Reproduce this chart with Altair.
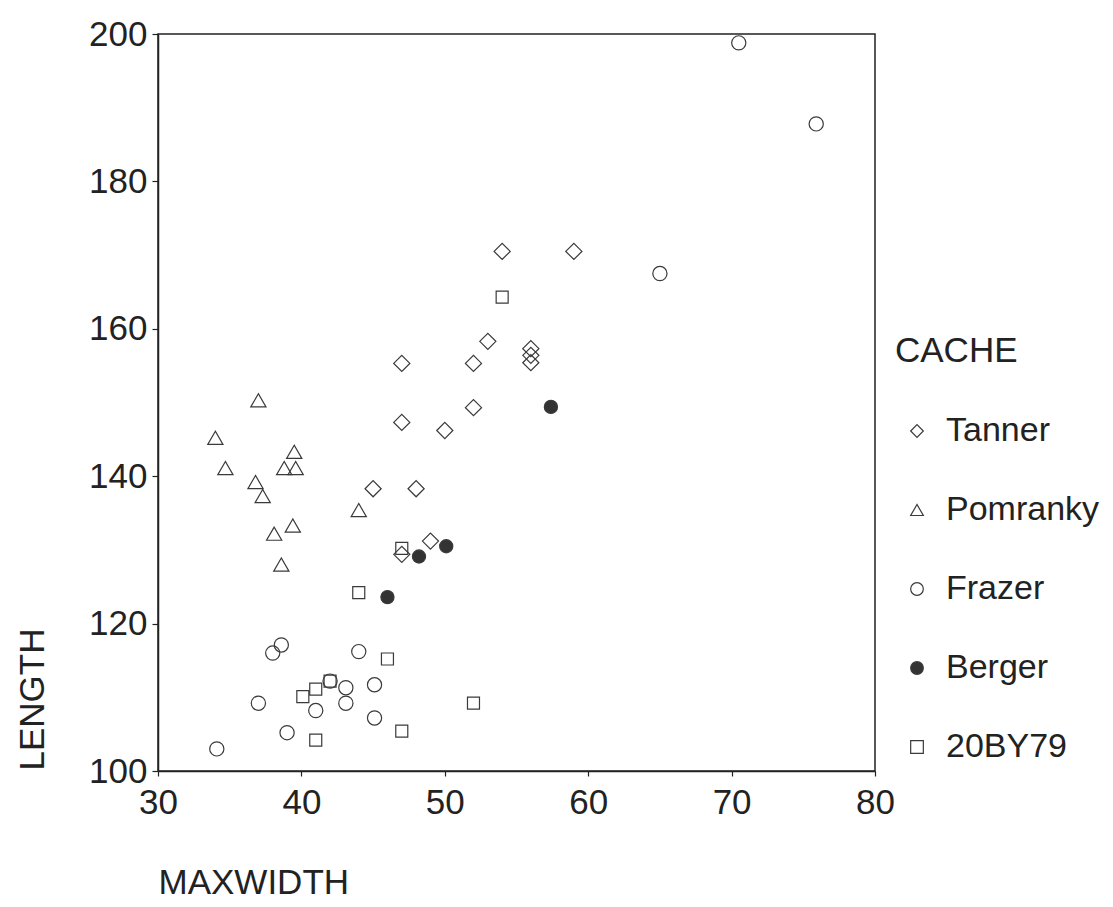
import altair as alt
import pandas as pd

caches = ["Tanner", "Pomranky", "Frazer", "Berger", "20BY79"]

tanner_x = [54, 59, 47, 52, 53, 56, 56, 56, 47, 52, 50, 45, 48, 49, 47]
tanner_y = [170.5, 170.5, 155.3, 155.3, 158.3, 157.3, 156.4, 155.4, 147.3, 149.3, 146.2, 138.3, 138.3, 131.2, 129.4]

pomranky_x = [37, 34, 34.7, 39.5, 38.8, 39.6, 36.8, 37.3, 44, 39.4, 38.1, 38.6]
pomranky_y = [150.3, 145.2, 141.1, 143.3, 141.1, 141.1, 139.2, 137.3, 135.4, 133.3, 132.2, 128.0]

frazer_x = [38.6, 38.0, 44.0, 42.0, 43.1, 45.1, 37.0, 43.1, 41.0, 45.1, 39.0, 34.1, 65.0, 70.5, 75.9]
frazer_y = [117.1, 116.0, 116.2, 112.2, 111.3, 111.7, 109.2, 109.2, 108.2, 107.2, 105.2, 103.0, 167.5, 198.8, 187.8]

berger_x = [50.1, 48.2, 46.0, 57.4]
berger_y = [130.5, 129.1, 123.6, 149.4]

by79_x = [47.0, 44.0, 46.0, 41.0, 40.1, 42.0, 52.0, 41.0, 47.0, 54.0]
by79_y = [130.2, 124.2, 115.2, 111.1, 110.1, 112.2, 109.2, 104.2, 105.4, 164.3]

x_ticks = [30, 40, 50, 60, 70, 80]
y_ticks = [100, 120, 140, 160, 180, 200]

rows = []
for name, xs, ys in [
    ("Tanner", tanner_x, tanner_y),
    ("Pomranky", pomranky_x, pomranky_y),
    ("Frazer", frazer_x, frazer_y),
    ("Berger", berger_x, berger_y),
    ("20BY79", by79_x, by79_y),
]:
    for xv, yv in zip(xs, ys):
        rows.append({"CACHE": name, "GROUP": name, "MAXWIDTH": xv, "LENGTH": yv})
df = pd.DataFrame(rows)

shapes = ["diamond", "triangle-up", "circle", "circle", "square"]
fills = ["transparent", "transparent", "transparent", "#333333", "transparent"]
strokes = ["#3a3a3a"] * 5
# size scale uses a differently ordered domain so its (hidden) legend is not merged
size_domain = ["20BY79", "Berger", "Frazer", "Pomranky", "Tanner"]
size_range = [144, 260, 320, 225, 290]

FONT = "Liberation Sans"
TXT = "#222222"

leg = alt.Legend(
    orient="none", legendX=737, legendY=300, title="CACHE",
    titleFont=FONT, titleFontSize=35, titleColor=TXT, titleFontWeight="normal",
    titlePadding=45, padding=0,
    labelFont=FONT, labelFontSize=34, labelColor=TXT, labelLimit=400,
    rowPadding=45, symbolOffset=5, labelOffset=12, symbolSize=160,
    symbolStrokeWidth=1.2,
)

chart = alt.Chart(df).mark_point(
    filled=False, strokeWidth=1.2, opacity=1
).encode(
    x=alt.X(
        "MAXWIDTH:Q",
        scale=alt.Scale(domain=[30, 80], nice=False, zero=False),
        axis=alt.Axis(
            values=x_ticks, title="MAXWIDTH", tickSize=5, labelPadding=9,
            labelFlush=False, labelOverlap=False,
            titleX=0, titleY=122, titleAlign="left", titleBaseline="alphabetic",
            titleAnchor="start",
        ),
    ),
    y=alt.Y(
        "LENGTH:Q",
        scale=alt.Scale(domain=[100, 200], nice=False, zero=False),
        axis=alt.Axis(
            values=y_ticks, title="LENGTH", tickSize=6, labelPadding=5,
            labelFlush=False, labelOverlap=False,
            titleAngle=270, titleX=-115, titleY=736, titleAlign="left",
            titleBaseline="alphabetic",
        ),
    ),
    shape=alt.Shape("CACHE:N", scale=alt.Scale(domain=caches, range=shapes), legend=leg),
    fill=alt.Fill("CACHE:N", scale=alt.Scale(domain=caches, range=fills), legend=leg),
    stroke=alt.Stroke("CACHE:N", scale=alt.Scale(domain=caches, range=strokes), legend=leg),
    size=alt.Size("GROUP:N", scale=alt.Scale(domain=size_domain, range=size_range), legend=None),
).properties(
    width=717,
    height=737,
    autosize=alt.AutoSizeParams(type="none"),
    padding={"left": 150, "top": 26, "right": 230, "bottom": 128},
    background="white",
).configure_view(
    stroke="#222222", strokeWidth=1.5
).configure_axis(
    grid=False,
    domainColor="#222222", domainWidth=1.5,
    tickColor="#222222", tickWidth=1.2,
    labelFont=FONT, labelFontSize=35, labelColor=TXT,
    titleFont=FONT, titleFontSize=35, titleColor=TXT, titleFontWeight="normal",
)

chart.save("out.html", embed_options={"renderer": "svg", "actions": False})
